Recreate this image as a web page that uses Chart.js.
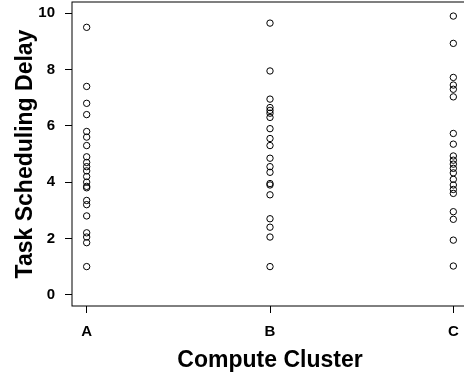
<!doctype html>
<html>
<head>
    <title>Task Scheduling Delay by Compute Cluster</title>
    <script src="https://cdn.jsdelivr.net/npm/chart.js@4.4.1/dist/chart.umd.min.js"></script>
    <style>
        html, body { margin: 0; padding: 0; background: #fff; overflow: hidden; }
        #wrap { width: 464px; height: 379px; overflow: hidden; }
    </style>
</head>
<body>
    <div id="wrap"><canvas id="chart" width="468" height="379"></canvas></div>
    <script>
        var clusters = ['A', 'B', 'C'];
        var delayA = [9.5, 7.4, 6.8, 6.4, 5.8, 5.6, 5.3, 4.9, 4.7, 4.55, 4.4, 4.2, 4.0, 3.85, 3.8, 3.35, 3.2, 2.8, 2.2, 2.05, 1.85, 1.0];
        var delayB = [9.65, 7.95, 6.95, 6.65, 6.55, 6.45, 6.3, 5.9, 5.55, 5.3, 4.85, 4.55, 4.35, 3.95, 3.9, 3.55, 2.7, 2.4, 2.05, 1.0];
        var delayC = [9.9, 8.93, 7.72, 7.45, 7.3, 7.03, 5.73, 5.35, 4.93, 4.78, 4.64, 4.49, 4.33, 4.1, 3.9, 3.74, 3.6, 2.95, 2.68, 1.94, 1.02];
        var yTicks = [0, 2, 4, 6, 8, 10];

        var font = 'Liberation Sans, Arial, Helvetica, sans-serif';
        var points = [];
        [delayA, delayB, delayC].forEach(function(vals, i) {
            vals.forEach(function(v) {
                points.push({x: i + 1, y: v});
            });
        });

        // R-style box round the plot area
        var boxPlugin = {
            id: 'box',
            afterDraw: function(chart) {
                var a = chart.chartArea;
                var ctx = chart.ctx;
                ctx.save();
                ctx.strokeStyle = '#000';
                ctx.lineWidth = 1;
                ctx.strokeRect(a.left, a.top, a.right - a.left, a.bottom - a.top);
                ctx.restore();
            }
        };

        // no extra room for overhanging tick labels
        function noPad(s) {
            s.paddingTop = 0;
            s.paddingBottom = 0;
            s.paddingLeft = 0;
            s.paddingRight = 0;
        }

        new Chart(document.getElementById('chart'), {
            type: 'scatter',
            data: {
                datasets: [{
                    data: points,
                    pointStyle: 'circle',
                    pointRadius: 3.2,
                    pointBorderWidth: 1,
                    borderColor: '#000',
                    backgroundColor: 'rgba(0,0,0,0)',
                }]
            },
            options: {
                responsive: false,
                animation: false,
                devicePixelRatio: 1,
                layout: { autoPadding: false, padding: { top: 2, left: 0, right: 0, bottom: 0 } },
                plugins: { legend: { display: false }, tooltip: { enabled: false } },
                scales: {
                    x: {
                        type: 'linear',
                        min: 0.92,
                        max: 3.08,
                        afterBuildTicks: function(s) {
                            s.ticks = clusters.map(function(c, i) { return {value: i + 1}; });
                        },
                        afterFit: function(s) { s.height = 73; noPad(s); },
                        border: { display: false },
                        grid: { drawOnChartArea: false, drawTicks: true, tickLength: 7, color: '#000' },
                        ticks: {
                            color: '#000',
                            padding: 10,
                            maxRotation: 0,
                            font: { family: font, size: 15, weight: 'bold' },
                            callback: function(v) { return clusters[v - 1]; }
                        },
                        title: {
                            display: true,
                            text: 'Compute Cluster',
                            color: '#000',
                            padding: { bottom: 5 },
                            font: { family: font, size: 23, weight: 'bold', lineHeight: 1.2 }
                        }
                    },
                    y: {
                        min: -0.4,
                        max: 10.4,
                        afterBuildTicks: function(s) {
                            s.ticks = yTicks.map(function(v) { return {value: v}; });
                        },
                        afterFit: function(s) { s.width = 72; noPad(s); },
                        border: { display: false },
                        grid: { drawOnChartArea: false, drawTicks: true, tickLength: 7, color: '#000' },
                        ticks: {
                            color: '#000',
                            padding: 10,
                            font: { family: font, size: 15, weight: 'bold' }
                        },
                        title: {
                            display: true,
                            text: 'Task Scheduling Delay',
                            color: '#000',
                            padding: { top: 12 },
                            font: { family: font, size: 23, weight: 'bold', lineHeight: 1.2 }
                        }
                    }
                }
            },
            plugins: [boxPlugin]
        });
    </script>
</body>
</html>
